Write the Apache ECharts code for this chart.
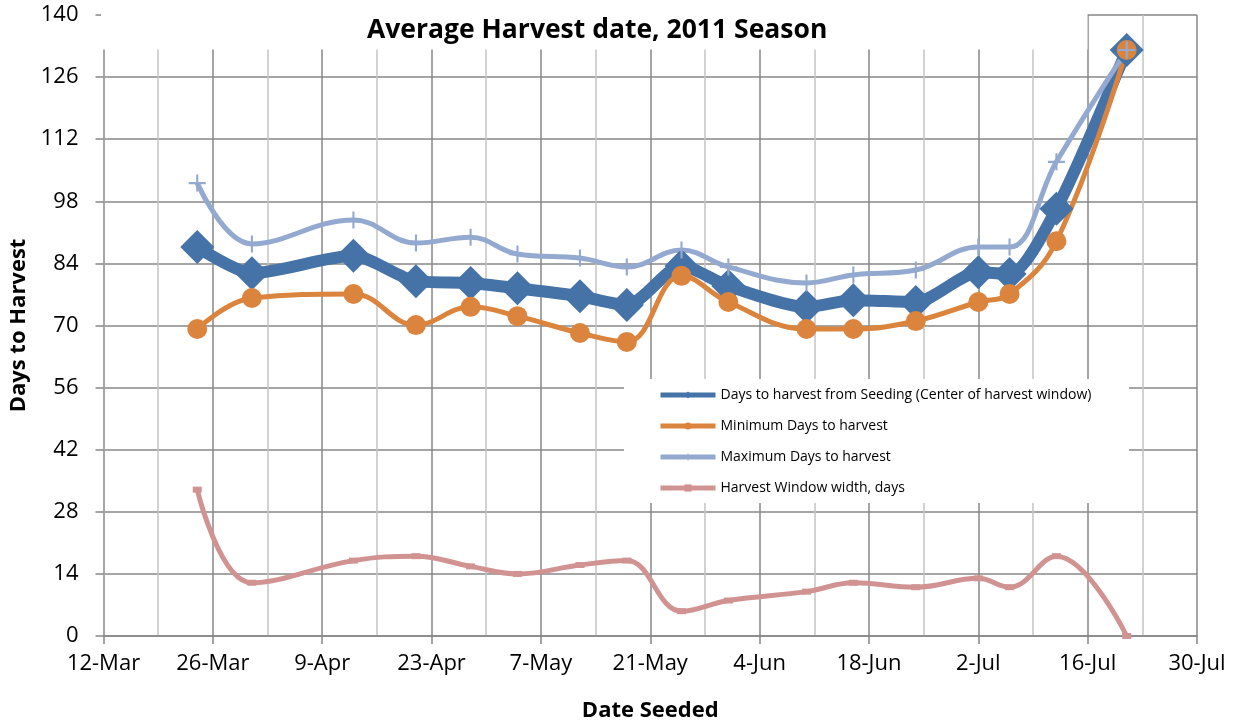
<!DOCTYPE html>
<html>
<head>
<meta charset="utf-8">
<title>Average Harvest date, 2011 Season</title>
<script src="https://cdn.jsdelivr.net/npm/echarts@6/dist/echarts.min.js"></script>
<style>
  html, body { margin: 0; padding: 0; background: #fff; }
  #chart { width: 1234px; height: 726px; }
</style>
</head>
<body>
<div id="chart"></div>
<script>
// Seeding dates (2011) and the values
var seedDates = ['2011-03-24', '2011-03-31', '2011-04-13', '2011-04-21', '2011-04-28', '2011-05-04',
                 '2011-05-12', '2011-05-18', '2011-05-25', '2011-05-31', '2011-06-10', '2011-06-16',
                 '2011-06-24', '2011-07-02', '2011-07-06', '2011-07-12', '2011-07-21'];
var centerDays = [87.7, 81.8, 85.7, 80.0, 79.6, 78.4, 76.6, 74.6, 83.4, 78.9, 74.2, 75.7, 75.3, 82.0, 81.6, 96.3, 132.1];
var minDays    = [69.2, 76.2, 77.1, 70.1, 74.2, 72.1, 68.3, 66.3, 81.2, 75.3, 69.2, 69.2, 71.0, 75.3, 77.1, 89.0, 132.1];
var maxDays    = [102.1, 88.4, 93.8, 88.6, 89.9, 86.1, 85.2, 83.2, 87.0, 83.2, 79.6, 81.4, 82.5, 87.7, 87.7, 106.9, 132.1];
var windowDays = [33, 12, 17, 18, 15.7, 14, 16, 17, 5.6, 8, 10, 12, 11, 13, 11, 18, 0];

var seriesNames = [
  'Days to harvest from Seeding (Center of harvest window)',
  'Minimum Days to harvest',
  'Maximum Days to harvest',
  'Harvest Window width, days'
];
var seriesColors = ['#4572A7', '#DB843D', '#93A9CF', '#D19392'];

// x axis runs in days counted from 12-Mar
var axisStart = Date.UTC(2011, 2, 12);
var dayMs = 86400000;
var months = ['Jan', 'Feb', 'Mar', 'Apr', 'May', 'Jun', 'Jul', 'Aug', 'Sep', 'Oct', 'Nov', 'Dec'];

function dayOffset(iso) {
  var p = iso.split('-');
  return Math.round((Date.UTC(+p[0], +p[1] - 1, +p[2]) - axisStart) / dayMs);
}

function pairUp(values) {
  return seedDates.map(function (d, i) { return [dayOffset(d), values[i]]; });
}

var fontName = 'Open Sans';
var chart = echarts.init(document.getElementById('chart'));

var option = {
  backgroundColor: '#fff',
  animation: false,
  textStyle: { fontFamily: fontName },
  title: {
    text: 'Average Harvest date, 2011 Season',
    left: 362,
    top: 12,
    textStyle: { fontFamily: fontName, fontSize: 26.5, fontWeight: 'bold', color: '#000' }
  },
  legend: {
    orient: 'vertical',
    left: 658,
    top: 388,
    padding: 0,
    itemWidth: 55,
    itemHeight: 9,
    itemGap: 17,
    lineStyle: { width: 5 },
    textStyle: { fontFamily: fontName, fontSize: 14, color: '#000' },
    data: seriesNames
  },
  grid: { left: 103.5, right: 37, top: 15, bottom: 90, outerBoundsMode: 'none' },
  graphic: [
    // white band that hides the top of the plot (as in the original picture)
    { type: 'rect', z: 1, shape: { x: 101, y: 0, width: 986.5, height: 49.5 }, style: { fill: '#fff' } },
    // white box behind the legend
    { type: 'rect', z: 1, shape: { x: 624, y: 379, width: 505, height: 124 }, style: { fill: '#fff' } }
  ],
  xAxis: {
    type: 'value',
    min: 0,
    max: 140,
    interval: 14,
    name: 'Date Seeded',
    nameLocation: 'middle',
    nameGap: 64,
    nameTextStyle: { fontFamily: fontName, fontSize: 22, fontWeight: 'bold', color: '#000' },
    axisLine: { lineStyle: { color: '#878787', width: 1.5 } },
    axisTick: { show: true, length: 8, lineStyle: { color: '#878787', width: 1.5 } },
    axisLabel: {
      margin: 17,
      fontSize: 22,
      color: '#000',
      formatter: function (v) {
        var d = new Date(axisStart + v * dayMs);
        return d.getUTCDate() + '-' + months[d.getUTCMonth()];
      }
    },
    splitLine: { show: true, lineStyle: { color: '#878787', width: 1.5 } },
    minorTick: { show: false, splitNumber: 2 },
    minorSplitLine: { show: true, lineStyle: { color: '#c4c4c4', width: 1.5 } }
  },
  yAxis: {
    type: 'value',
    min: 0,
    max: 140,
    interval: 14,
    name: 'Days to Harvest',
    nameLocation: 'middle',
    nameGap: 73,
    nameTextStyle: { fontFamily: fontName, fontSize: 22, fontWeight: 'bold', color: '#000' },
    axisLine: { show: true, lineStyle: { color: '#a8a8a8', width: 1.5 } },
    axisTick: { show: true, length: 8, lineStyle: { color: '#878787', width: 1.5 } },
    axisLabel: { margin: 25, fontSize: 22, color: '#000' },
    splitLine: { show: true, lineStyle: { color: '#878787', width: 1.5 } }
  },
  series: [
    {
      name: seriesNames[0],
      type: 'line',
      smooth: 0.25,
      data: pairUp(centerDays),
      color: seriesColors[0],
      lineStyle: { width: 12 },
      symbol: 'diamond',
      symbolSize: 34,
      itemStyle: { color: seriesColors[0] }
    },
    {
      name: seriesNames[1],
      type: 'line',
      smooth: 0.4,
      data: pairUp(minDays),
      color: seriesColors[1],
      lineStyle: { width: 5 },
      symbol: 'circle',
      symbolSize: 20,
      itemStyle: { color: seriesColors[1] }
    },
    {
      name: seriesNames[2],
      type: 'line',
      smooth: 0.4,
      data: pairUp(maxDays),
      color: seriesColors[2],
      lineStyle: { width: 5 },
      symbol: 'path://M7,0H9V7H16V9H9V16H7V9H0V7H7Z',
      symbolSize: 17,
      itemStyle: { color: seriesColors[2] }
    },
    {
      name: seriesNames[3],
      type: 'line',
      smooth: 0.4,
      data: pairUp(windowDays),
      color: seriesColors[3],
      lineStyle: { width: 5 },
      symbol: 'rect',
      symbolSize: [9, 6],
      itemStyle: { color: seriesColors[3] }
    }
  ]
};

chart.setOption(option);
</script>
</body>
</html>
